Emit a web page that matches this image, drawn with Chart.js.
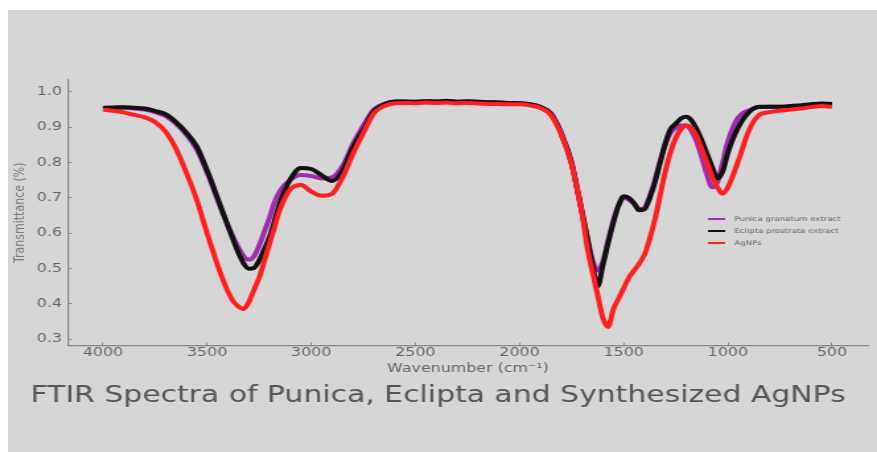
<!DOCTYPE html>
<html>
<head>
<meta charset="utf-8">
<script src="https://cdn.jsdelivr.net/npm/chart.js@4.4.1/dist/chart.umd.min.js"></script>
<style>
  body { margin: 0; background: #fff; }
  .panel { position: absolute; left: 8px; top: 10px; width: 869px; height: 442px; background: #d6d6d6; overflow: hidden; }
  /* the source picture is stretched sideways, so the whole chart is too */
  .wrap { width: 658px; height: 442px; transform: scaleX(1.3207); transform-origin: 0 0; }
</style>
</head>
<body>
<div class="panel"><div class="wrap"><canvas id="ftirChart"></canvas></div></div>
<script>
// wavenumbers (cm-1) shared by all three spectra
var wavenumbers = [
  4000, 3950, 3900, 3850, 3800, 3750, 3700, 3650, 3600, 3550, 3500,
  3475, 3450, 3425, 3400, 3375, 3350, 3325, 3300, 3275, 3250, 3225, 3200, 3175, 3150,
  3100, 3050, 3000, 2950, 2900, 2850, 2800, 2750, 2700, 2650, 2600, 2550, 2500, 2450,
  2400, 2350, 2300, 2250, 2200, 2150, 2100, 2050, 2000, 1950, 1900, 1850, 1800, 1750,
  1725, 1700, 1675, 1650, 1625, 1600, 1575, 1550, 1525, 1500, 1475, 1450, 1425, 1400,
  1375, 1350, 1325, 1300, 1275, 1250, 1225, 1200, 1175, 1150, 1125, 1100, 1075, 1050,
  1025, 1000,
  950, 900, 850, 800, 750, 700, 650, 600, 550, 500
];

var punica = [
  .952, .954, .955, .953, .950, .943, .932, .910, .880, .838, .772,
  .735, .695, .658, .622, .590, .560, .535, .525, .535, .565, .605, .645, .690, .720,
  .752, .765, .762, .755, .758, .790, .853, .905, .950, .966, .972, .973, .972, .974,
  .973, .974, .972, .973, .972, .971, .970, .969, .968, .965, .957, .940, .885, .800,
  .730, .660, .590, .525, .495, .520, .580, .635, .680, .700, .695, .683, .668, .672,
  .705, .750, .805, .852, .885, .898, .905, .905, .890, .860, .815, .765, .730, .745,
  .800, .860,
  .928, .948, .957, .958, .958, .960, .962, .964, .966, .965
];

var eclipta = [
  .955, .956, .957, .955, .953, .946, .937, .915, .885, .846, .778,
  .740, .700, .660, .620, .582, .545, .515, .500, .502, .523, .555, .590, .637, .687,
  .753, .785, .782, .764, .748, .777, .843, .893, .945, .965, .973, .973, .972, .974,
  .973, .975, .972, .974, .972, .971, .970, .969, .968, .965, .958, .938, .882, .798,
  .730, .660, .585, .510, .450, .510, .572, .630, .678, .705, .700, .685, .665, .668,
  .700, .745, .800, .855, .895, .910, .925, .930, .920, .895, .862, .825, .787, .755,
  .775, .828,
  .900, .942, .958, .958, .958, .960, .962, .965, .967, .966
];

var agnps = [
  .950, .947, .942, .935, .928, .915, .888, .840, .772, .695, .600,
  .555, .510, .470, .435, .408, .393, .386, .405, .440, .475, .522, .572, .620, .668,
  .725, .737, .718, .706, .712, .758, .825, .884, .940, .960, .968, .969, .968, .970,
  .969, .970, .968, .969, .967, .966, .966, .965, .965, .962, .955, .935, .880, .795,
  .730, .655, .560, .490, .425, .360, .335, .385, .415, .445, .475, .495, .515, .540,
  .585, .640, .708, .775, .830, .870, .895, .905, .898, .875, .838, .800, .760, .730,
  .712, .730,
  .805, .890, .935, .943, .947, .950, .953, .957, .960, .958
];

var xTicks = [4000, 3500, 3000, 2500, 2000, 1500, 1000, 500];
var yTicks = [0.3, 0.4, 0.5, 0.6, 0.7, 0.8, 0.9, 1.0];

function toPoints(values) {
  return values.map(function (v, i) { return {x: wavenumbers[i], y: v}; });
}

// small legend drawn inside the plot, like the original
var insideLegend = {
  id: 'insideLegend',
  afterDatasetsDraw: function (chart, args, opts) {
    var ctx = chart.ctx;
    ctx.save();
    ctx.font = opts.fontSize + 'px "DejaVu Sans"';
    ctx.textBaseline = 'middle';
    chart.data.datasets.forEach(function (ds, i) {
      var y = opts.y + i * opts.rowGap;
      ctx.strokeStyle = ds.borderColor;
      ctx.lineWidth = 2;
      ctx.beginPath();
      ctx.moveTo(opts.x, y);
      ctx.lineTo(opts.x + opts.lineLen, y);
      ctx.stroke();
      ctx.fillStyle = opts.color;
      ctx.fillText(ds.label, opts.x + opts.lineLen + opts.gap, y);
    });
    ctx.restore();
  }
};

Chart.defaults.font.family = '"DejaVu Sans"';
Chart.defaults.color = '#666';

var ctx = document.getElementById('ftirChart').getContext('2d');
new Chart(ctx, {
  type: 'line',
  data: {
    datasets: [
      { label: 'Punica granatum extract', data: toPoints(punica), borderColor: '#a02cb2', order: 3 },
      { label: 'Eclipta prostrata extract', data: toPoints(eclipta), borderColor: '#111111', order: 2 },
      { label: 'AgNPs', data: toPoints(agnps), borderColor: '#ff1f1f', order: 1 }
    ]
  },
  options: {
    responsive: true,
    maintainAspectRatio: false,
    animation: false,
    datasets: {
      line: { borderWidth: 4, pointRadius: 0, cubicInterpolationMode: 'monotone', fill: false }
    },
    layout: { padding: { left: 0, right: 6.8, top: 70, bottom: 0 } },
    plugins: {
      legend: { display: false },
      tooltip: { enabled: false },
      title: {
        display: true,
        position: 'bottom',
        text: 'FTIR Spectra of Punica, Eclipta and Synthesized AgNPs',
        color: '#555',
        font: { size: 22.6, weight: 'normal' },
        padding: { top: 0, bottom: 42 }
      },
      insideLegend: { x: 530, y: 209, rowGap: 12, lineLen: 13, gap: 7, fontSize: 6.5, color: '#666' }
    },
    scales: {
      x: {
        type: 'linear',
        reverse: true,
        min: 327,
        max: 4168,
        afterBuildTicks: function (s) { s.ticks = xTicks.map(function (v) { return {value: v}; }); },
        afterFit: function (s) { s.height = 37.3; },
        ticks: { font: { size: 12 }, color: '#666', padding: 3, maxRotation: 0, callback: function (v) { return String(v); } },
        grid: { drawOnChartArea: false, tickLength: -3, color: '#888' },
        border: { color: '#888', width: 1.2 },
        title: { display: true, text: 'Wavenumber (cm\u207B\u00B9)', color: '#666', font: { size: 12 }, padding: { top: 0, bottom: 7 } }
      },
      y: {
        min: 0.2823,
        max: 1.0338,
        afterBuildTicks: function (s) { s.ticks = yTicks.map(function (v) { return {value: v}; }); },
        afterFit: function (s) { s.width = 45.4; },
        ticks: { font: { size: 12 }, color: '#666', padding: 7.5, callback: function (v) { return v.toFixed(1); } },
        grid: { drawOnChartArea: false, tickLength: -3, color: '#888' },
        border: { color: '#888', width: 1.2 },
        title: { display: true, text: 'Transmittance (%)', color: '#777', font: { size: 11 }, padding: { top: 2.5, bottom: 0 } }
      }
    }
  },
  plugins: [insideLegend]
});
</script>
</body>
</html>
